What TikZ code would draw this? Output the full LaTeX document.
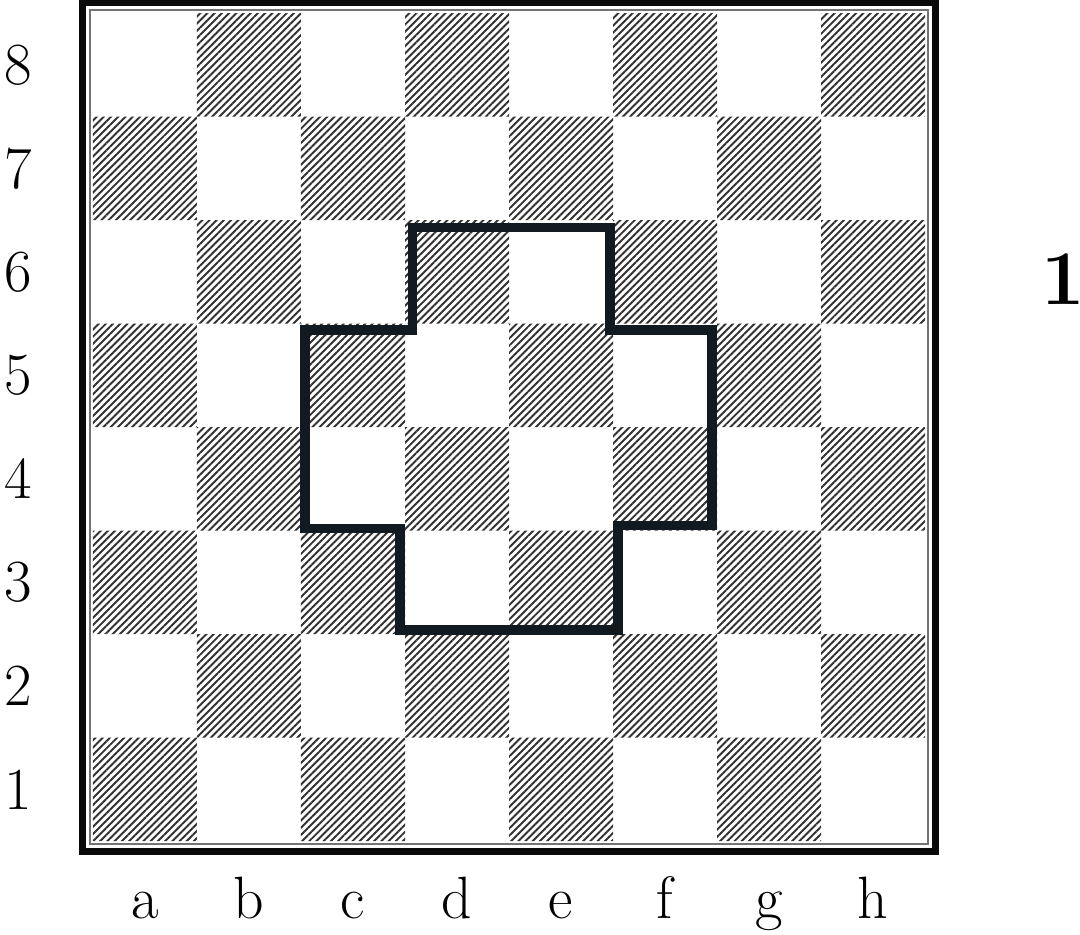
\documentclass[tikz,border=0pt]{standalone}
\usetikzlibrary{patterns.meta}
\definecolor{hatchink}{RGB}{50,50,50}
\definecolor{frameink}{RGB}{10,10,10}
\definecolor{outlineink}{RGB}{16,26,32}

\begin{document}
\begin{tikzpicture}[font=\fontsize{17}{20}\selectfont,line cap=round,line join=round,x=1.04cm,y=1.035cm]
\useasboundingbox (-0.894,-0.899) rectangle (9.490,8.126);
\tikzset{darksq/.style={pattern={Lines[angle=45,distance=1.45pt,line width=0.55pt]},pattern color=hatchink}}
\fill[darksq] (0,0) rectangle (1,1) (2,0) rectangle (3,1) (4,0) rectangle (5,1) (6,0) rectangle (7,1);
\fill[darksq] (1,1) rectangle (2,2) (3,1) rectangle (4,2) (5,1) rectangle (6,2) (7,1) rectangle (8,2);
\fill[darksq] (0,2) rectangle (1,3) (2,2) rectangle (3,3) (4,2) rectangle (5,3) (6,2) rectangle (7,3);
\fill[darksq] (1,3) rectangle (2,4) (3,3) rectangle (4,4) (5,3) rectangle (6,4) (7,3) rectangle (8,4);
\fill[darksq] (0,4) rectangle (1,5) (2,4) rectangle (3,5) (4,4) rectangle (5,5) (6,4) rectangle (7,5);
\fill[darksq] (1,5) rectangle (2,6) (3,5) rectangle (4,6) (5,5) rectangle (6,6) (7,5) rectangle (8,6);
\fill[darksq] (0,6) rectangle (1,7) (2,6) rectangle (3,7) (4,6) rectangle (5,7) (6,6) rectangle (7,7);
\fill[darksq] (1,7) rectangle (2,8) (3,7) rectangle (4,8) (5,7) rectangle (6,8) (7,7) rectangle (8,8);
\draw[black!55,line width=0.6pt,line join=miter] (-0.03,-0.025) rectangle (8.03,8.025);
\draw[frameink,line width=2pt,line join=miter] (-0.1,-0.1) rectangle (8.105,8.1);
\draw[outlineink,line width=2.7pt,line cap=butt,line join=miter] (3.07,5.93) -- (4.97,5.93) -- (4.97,4.94) -- (5.95,4.94) -- (5.95,3.05) -- (5.05,3.05) -- (5.05,2.04) -- (2.95,2.04) -- (2.95,3.02) -- (2.04,3.02) -- (2.04,4.94) -- (3.07,4.94) -- cycle;
\node (rank-1) at (-0.72,0.5) {1};
\node (rank-2) at (-0.72,1.5) {2};
\node (rank-3) at (-0.72,2.5) {3};
\node (rank-4) at (-0.72,3.5) {4};
\node (rank-5) at (-0.72,4.5) {5};
\node (rank-6) at (-0.72,5.5) {6};
\node (rank-7) at (-0.72,6.5) {7};
\node (rank-8) at (-0.72,7.5) {8};
\node[anchor=base] (file-a) at (0.5,-0.75) {a};
\node[anchor=base] (file-b) at (1.5,-0.75) {b};
\node[anchor=base] (file-c) at (2.5,-0.75) {c};
\node[anchor=base] (file-d) at (3.5,-0.75) {d};
\node[anchor=base] (file-e) at (4.5,-0.75) {e};
\node[anchor=base] (file-f) at (5.5,-0.75) {f};
\node[anchor=base] (file-g) at (6.5,-0.75) {g};
\node[anchor=base] (file-h) at (7.5,-0.75) {h};
\node[font=\fontsize{22}{26}\selectfont\bfseries] (diagram-no) at (9.33,5.43) {1};
\end{tikzpicture}
\end{document}
